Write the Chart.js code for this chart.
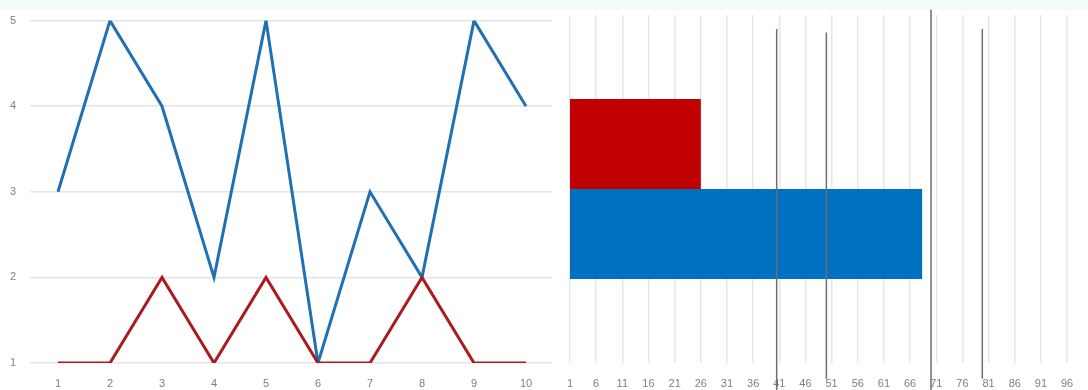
<!DOCTYPE html>
<html>
<head>
<meta charset="utf-8">
<script src="https://cdn.jsdelivr.net/npm/chart.js@4.4.1/dist/chart.umd.min.js"></script>
<style>
  html, body { margin: 0; padding: 0; }
  body { width: 1088px; height: 390px; background: #f3fcf5; position: relative; overflow: hidden; }
  #sheet { position: absolute; left: 0; top: 10px; width: 1088px; height: 380px; background: #ffffff; }
  .box { position: absolute; top: 0; height: 390px; }
  #left { left: 0; width: 556px; }
  #right { left: 556px; width: 532px; }
</style>
</head>
<body>
<div id="sheet"></div>
<div class="box" id="left"><canvas id="line-chart"></canvas></div>
<div class="box" id="right"><canvas id="bar-chart"></canvas></div>
<script>
// datos del gráfico de líneas
const lineLabels = ['1', '2', '3', '4', '5', '6', '7', '8', '9', '10'];
const serieAzul = [3, 5, 4, 2, 5, 1, 3, 2, 5, 4];
const serieRoja = [1, 1, 2, 1, 2, 1, 1, 2, 1, 1];

// datos del gráfico de barras
const barLabels = [''];
const barraRoja = [26];
const barraAzul = [68.3];
const xTicks = [1, 6, 11, 16, 21, 26, 31, 36, 41, 46, 51, 56, 61, 66, 71, 76, 81, 86, 91, 96];

// líneas verticales de referencia (posición x, extremo superior, extremo inferior)
const refX = [40.5, 50, 70, 79.8];
const refTop = [96, 95, 101.5, 96];
const refBottom = [-8, -4.5, -8, -4.5];

const fuente = { family: 'Liberation Sans', size: 11 };
const grisTexto = '#7f7f7f';

// Gráfico de líneas
new Chart(document.getElementById('line-chart').getContext('2d'), {
    type: 'line',
    data: {
        labels: lineLabels,
        datasets: [
            {
                data: serieAzul,
                borderColor: '#2070b4',
                borderWidth: 3,
                pointRadius: 0,
                tension: 0,
                order: 2
            },
            {
                data: serieRoja,
                borderColor: '#aa1c20',
                borderWidth: 3,
                pointRadius: 0,
                tension: 0,
                order: 1
            }
        ]
    },
    options: {
        responsive: true,
        maintainAspectRatio: false,
        animation: false,
        layout: { padding: { top: 19, right: 4, left: 0, bottom: 0 } },
        plugins: { legend: { display: false }, tooltip: { enabled: false } },
        scales: {
            x: {
                offset: true,
                grid: { display: false, drawTicks: false },
                border: { display: false },
                ticks: { color: grisTexto, font: fuente, padding: 14, maxRotation: 0 },
                afterFit: s => { s.height = 27; }
            },
            y: {
                min: 1,
                max: 5,
                grid: { color: '#e4e4e4', lineWidth: 1.5, tickLength: 2 },
                border: { display: false },
                ticks: { stepSize: 1, color: grisTexto, font: fuente, padding: 14 },
                afterFit: s => { s.width = 32; }
            }
        }
    }
});

// Gráfico de barras horizontales con líneas de referencia
const lineasRef = refX.map((x, i) => ({
    type: 'line',
    data: [{ x: x, y: refBottom[i] }, { x: x, y: refTop[i] }],
    xAxisID: 'x',
    yAxisID: 'y2',
    borderColor: '#6e6e6e',
    borderWidth: 1.5,
    pointRadius: 0,
    clip: false,
    order: 0
}));

new Chart(document.getElementById('bar-chart').getContext('2d'), {
    type: 'bar',
    data: {
        labels: barLabels,
        datasets: [
            {
                data: barraRoja,
                indexAxis: 'y',
                xAxisID: 'x',
                yAxisID: 'y',
                backgroundColor: '#c00000',
                categoryPercentage: 0.517,
                barPercentage: 1,
                order: 2
            },
            {
                data: barraAzul,
                indexAxis: 'y',
                xAxisID: 'x',
                yAxisID: 'y',
                backgroundColor: '#0070c0',
                categoryPercentage: 0.517,
                barPercentage: 1,
                order: 2
            },
            ...lineasRef
        ]
    },
    options: {
        responsive: true,
        maintainAspectRatio: false,
        animation: false,
        layout: { padding: { top: 15, right: 0, left: 14, bottom: 0 } },
        plugins: { legend: { display: false }, tooltip: { enabled: false } },
        scales: {
            x: {
                type: 'linear',
                position: 'bottom',
                min: 1,
                max: 100,
                offset: false,
                grid: { color: '#e6e6e6', lineWidth: 1.5, drawTicks: false, offset: false },
                border: { display: false },
                afterBuildTicks: s => { s.ticks = xTicks.map(v => ({ value: v })); },
                ticks: { color: grisTexto, font: fuente, padding: 14, maxRotation: 0, autoSkip: false },
                afterFit: s => { s.height = 27; s.paddingLeft = 0; s.paddingRight = 0; }
            },
            y: {
                type: 'category',
                display: false
            },
            y2: {
                type: 'linear',
                display: false,
                min: 0,
                max: 100
            }
        }
    }
});
</script>
</body>
</html>
